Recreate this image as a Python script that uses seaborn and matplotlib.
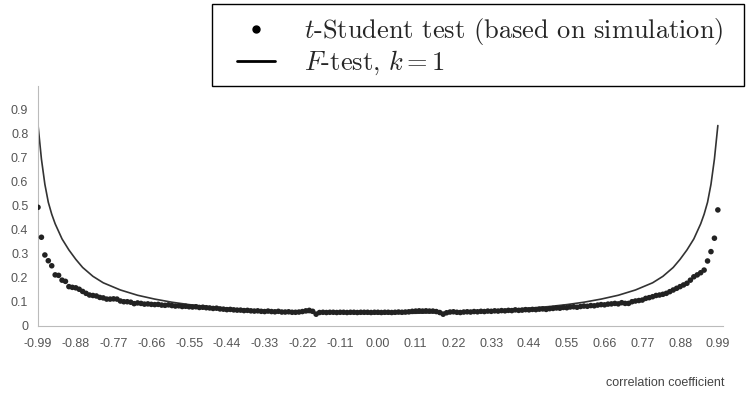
import numpy as np
import pandas as pd
import matplotlib
matplotlib.use("Agg")
import matplotlib.pyplot as plt
import seaborn as sns
from matplotlib.lines import Line2D
from matplotlib.patches import Rectangle

# ---- data ----
r_sim = np.round(np.arange(-99, 100) / 100, 2)  # correlation coefficients (categories)
t_sim = [
    # -0.99 .. -0.70
    0.494, 0.369, 0.295, 0.271, 0.250, 0.212, 0.210, 0.190, 0.185, 0.163,
    0.160, 0.158, 0.152, 0.143, 0.135, 0.128, 0.126, 0.124, 0.118, 0.116,
    0.111, 0.111, 0.112, 0.111, 0.103, 0.100, 0.100, 0.098, 0.092, 0.095,
    # -0.69 .. -0.50
    0.093, 0.090, 0.091, 0.089, 0.088, 0.089, 0.086, 0.085, 0.087, 0.084,
    0.082, 0.083, 0.080, 0.081, 0.079, 0.078, 0.079, 0.076, 0.077, 0.075,
    # -0.49 .. -0.23
    0.074, 0.072, 0.073, 0.070, 0.069, 0.067, 0.068, 0.066, 0.065, 0.065,
    0.063, 0.064, 0.062, 0.061, 0.062, 0.060, 0.059, 0.061, 0.059, 0.058,
    0.060, 0.057, 0.057, 0.058, 0.056, 0.056, 0.057,
    # -0.22 .. -0.17
    0.059, 0.062, 0.064, 0.060, 0.048, 0.055,
    # -0.16 .. 0.09
    0.056, 0.055, 0.056, 0.056, 0.055, 0.056, 0.056, 0.055, 0.056, 0.056,
    0.055, 0.056, 0.056, 0.056, 0.055, 0.056, 0.056, 0.055, 0.056, 0.056,
    0.055, 0.056, 0.057, 0.056, 0.057, 0.058,
    # 0.10 .. 0.20
    0.060, 0.061, 0.062, 0.061, 0.062, 0.061, 0.061, 0.059, 0.055, 0.048, 0.054,
    # 0.21 .. 0.45
    0.057, 0.058, 0.056, 0.055, 0.057, 0.058, 0.057, 0.059, 0.058, 0.060,
    0.059, 0.061, 0.060, 0.062, 0.061, 0.063, 0.062, 0.064, 0.063, 0.066,
    0.064, 0.065, 0.067, 0.066, 0.068,
    # 0.46 .. 0.67
    0.067, 0.069, 0.070, 0.068, 0.071, 0.072, 0.074, 0.073, 0.076, 0.075,
    0.078, 0.079, 0.077, 0.080, 0.082, 0.081, 0.084, 0.083, 0.086, 0.088,
    0.087, 0.090,
    # 0.68 .. 0.99
    0.091, 0.093, 0.091, 0.096, 0.093, 0.093, 0.100, 0.103, 0.105, 0.107,
    0.114, 0.117, 0.121, 0.126, 0.128, 0.131, 0.135, 0.142, 0.149, 0.156,
    0.163, 0.170, 0.177, 0.190, 0.204, 0.212, 0.221, 0.232, 0.270, 0.309,
    0.365, 0.483,
]

r_f = [-0.99, -0.98, -0.97, -0.96, -0.95, -0.94, -0.92, -0.90, -0.88, -0.86,
       -0.83, -0.80, -0.75, -0.70, -0.65, -0.60, -0.55, -0.50, -0.44, -0.33,
       -0.22, -0.11, 0.00, 0.11, 0.22, 0.33, 0.44, 0.50, 0.55, 0.60, 0.65,
       0.70, 0.75, 0.80, 0.83, 0.86, 0.88, 0.90, 0.92, 0.94, 0.95, 0.96,
       0.97, 0.98, 0.99]
f_test = [0.838, 0.695, 0.590, 0.515, 0.465, 0.425, 0.362, 0.316, 0.277, 0.243,
          0.206, 0.179, 0.149, 0.127, 0.111, 0.098, 0.088, 0.080, 0.073, 0.063,
          0.056, 0.052, 0.050, 0.052, 0.056, 0.063, 0.073, 0.080, 0.088, 0.098,
          0.111, 0.127, 0.149, 0.179, 0.206, 0.243, 0.277, 0.316, 0.362, 0.425,
          0.465, 0.515, 0.590, 0.695, 0.835]

x_ticks = [-0.99, -0.88, -0.77, -0.66, -0.55, -0.44, -0.33, -0.22, -0.11, 0.00,
           0.11, 0.22, 0.33, 0.44, 0.55, 0.66, 0.77, 0.88, 0.99]
y_ticks = [0, 0.1, 0.2, 0.3, 0.4, 0.5, 0.6, 0.7, 0.8, 0.9]
y_labels = ["0", "0.1", "0.2", "0.3", "0.4", "0.5", "0.6", "0.7", "0.8", "0.9"]

label_t = r"$t$-Student test (based on simulation)"
label_f = r"$F$-test, $k=1$"

# ---- plot ----
sns.set_style("white")
plt.rcParams["font.family"] = ["Liberation Sans", "DejaVu Sans"]
plt.rcParams["mathtext.fontset"] = "cm"

df_sim = pd.DataFrame({"r": r_sim, "p": t_sim})
df_f = pd.DataFrame({"r": r_f, "p": f_test})

W, H = 746, 394
fig = plt.figure(figsize=(W / 100, H / 100), dpi=100)
ax = fig.add_axes([38 / W, (H - 325.7) / H, (723 - 38) / W, (325.7 - 86) / H])

sns.lineplot(data=df_f, x="r", y="p", ax=ax, color="#333333", linewidth=1.2,
             zorder=2, legend=False)
sns.scatterplot(data=df_sim, x="r", y="p", ax=ax, color="#222222", s=16,
                edgecolor="none", zorder=3, legend=False)

ax.set_xlim(-0.99, 1.005)
ax.set_ylim(0, 1.0)
ax.set_xticks(x_ticks)
ax.set_xticklabels([f"{v:.2f}" for v in x_ticks])
ax.set_yticks(y_ticks)
ax.set_yticklabels(y_labels)
ax.set_xlabel("")
ax.set_ylabel("")
ax.tick_params(axis="both", labelsize=9, labelcolor="#555555", color="#aaaaaa",
               length=3, width=0.8, direction="out", pad=4)
ax.tick_params(axis="x", pad=6)
for side in ["top", "right"]:
    ax.spines[side].set_visible(False)
for side in ["left", "bottom"]:
    ax.spines[side].set_color("#bbbbbb")
    ax.spines[side].set_linewidth(0.8)

fig.text(725 / W, (H - 383) / H, "correlation coefficient", ha="right",
         va="center", fontsize=9, color="#444444")

# legend (frame drawn separately so its padding can match the reference)
handles = [
    Line2D([], [], marker="o", linestyle="none", color="black", markersize=5),
    Line2D([], [], color="black", linewidth=2),
]
leg = fig.legend(handles, [label_t, label_f], loc="upper left",
                 bbox_to_anchor=(237 / W, 1 - 16 / H),
                 prop={"family": "cmr10", "size": 19},
                 frameon=False, borderpad=0, labelspacing=0.08,
                 handlelength=1.45, handletextpad=1.1, borderaxespad=0)
fig.add_artist(Rectangle((212 / W, 1 - 86 / H), (744 - 212) / W, 82 / H,
                         transform=fig.transFigure, fill=False,
                         edgecolor="black", linewidth=1.0))

fig.savefig("out.png", dpi=100)
